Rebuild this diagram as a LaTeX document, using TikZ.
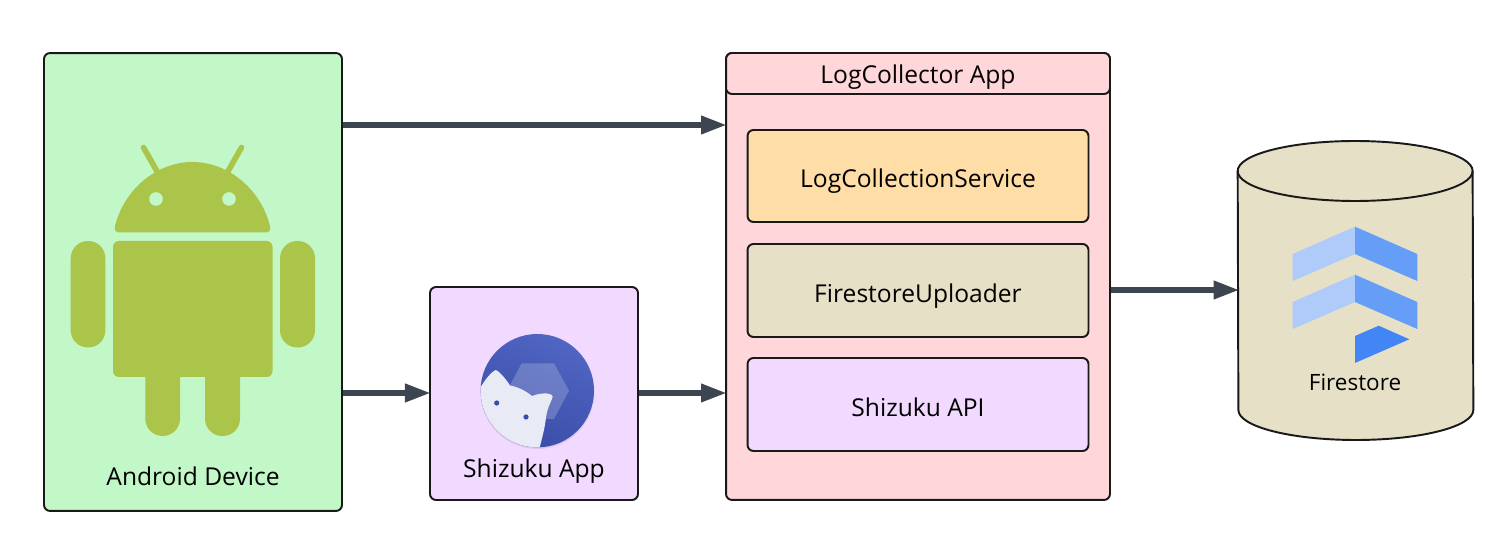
\documentclass[tikz,border=0pt]{standalone}
\usepackage{fontspec}
\setmainfont{Open Sans}
\usetikzlibrary{arrows.meta}
\definecolor{darrow}{HTML}{3D4551}
\definecolor{cgreen}{HTML}{C2F8C8}
\definecolor{cpurple}{HTML}{F2D9FF}
\definecolor{cpink}{HTML}{FFD6D9}
\definecolor{corange}{HTML}{FFDDA6}
\definecolor{ctan}{HTML}{E6E0C7}
\definecolor{droid}{HTML}{ABC44A}
\definecolor{shzlight}{HTML}{5066C2}
\definecolor{shzdark}{HTML}{394CA8}
\definecolor{shzcat}{HTML}{E8EBF6}
\definecolor{fslight}{HTML}{AECBFA}
\definecolor{fsmid}{HTML}{669DF6}
\definecolor{fsdark}{HTML}{4285F4}
\tikzset{box/.style = {shape=rectangle,draw=black!90,line width=1.1pt,rounded corners=3.4pt,inner sep=0pt,text height=13.5pt,text depth=0pt,font=\fontsize{14}{16}\selectfont}}
\tikzset{txt/.style = {inner sep=0pt,font=\fontsize{14}{16}\selectfont}}
\tikzset{edge/.style = {-{Triangle[length=14.5pt,width=10pt]},draw=darrow,line width=3pt,shorten >=-0.8pt}}
\begin{document}
\begin{tikzpicture}[x=0.02cm,y=-0.02cm]
		\useasboundingbox (0,0) rectangle (1500,543);
		
		% boxes
		\node[box,fill=cgreen,minimum width=5.96cm,minimum height=9.16cm] (android) at (193,282) {};
		\node[box,fill=cpurple,minimum width=4.16cm,minimum height=4.26cm] (shizuku) at (534,393.5) {};
		\node[box,fill=cpink,minimum width=7.68cm,minimum height=8.94cm] (logapp) at (918,276.5) {};
		\node[box,fill=cpink,minimum width=7.68cm,minimum height=0.82cm,text height=11.5pt] (header) at (918,73.5) {LogCollector App};
		\node[box,fill=corange,minimum width=6.82cm,minimum height=1.84cm] (service) at (918,176) {LogCollectionService};
		\node[box,fill=ctan,minimum width=6.82cm,minimum height=1.86cm] (uploader) at (918,290.5) {FirestoreUploader};
		\node[box,fill=cpurple,minimum width=6.82cm,minimum height=1.86cm] (api) at (918,404.5) {Shizuku API};
		
		% cylinder
		\node[minimum width=4.7cm,minimum height=5.98cm,inner sep=0pt] (store) at (1355.5,290.5) {};
		\draw[draw=black!90,line width=1.1pt,fill=ctan] (store.west |- 0,171) arc[start angle=180,end angle=0,x radius=2.35cm,y radius=0.6cm] -- (store.east |- 0,410) arc[start angle=0,end angle=-180,x radius=2.35cm,y radius=0.6cm] -- cycle;
		\draw[draw=black!90,line width=1.1pt] (store.west |- 0,171) arc[start angle=180,end angle=360,x radius=2.35cm,y radius=0.6cm];
		
		% android robot
		\fill[droid] (115,226) .. controls (124,190) and (156,162) .. (192.5,162) .. controls (229,162) and (261,190) .. (270,226) .. controls (271,230) and (269,232.5) .. (266,232.5) -- (119,232.5) .. controls (116,232.5) and (114,230) .. (115,226) -- cycle;
		\draw[droid,line width=3.2pt,line cap=round] (143.5,147.5) -- (158,173);
		\draw[droid,line width=3.2pt,line cap=round] (241.5,147.5) -- (227,173);
		\fill[cgreen] (156,199) circle (6.8);
		\fill[cgreen] (229,199) circle (6.8);
		\fill[droid,rounded corners=3.4pt] (113,241) rectangle (272.5,377);
		\fill[droid,rounded corners=9.8pt] (70.7,241) rectangle (105.4,347.5);
		\fill[droid,rounded corners=9.8pt] (280,241) rectangle (315,347.5);
		\fill[droid,rounded corners=9.8pt] (145.3,360) rectangle (180,436);
		\fill[droid,rounded corners=9.8pt] (205,360) rectangle (240,436);
		\node[txt] (androidlabel) at (193,476) {Android Device};
		
		% shizuku icon
		\fill[black,opacity=0.08] (537.5,392) circle (57);
		\shade[left color=shzlight,right color=shzdark,shading angle=-25] (537.3,390.7) circle (56.7);
		\fill[white,opacity=0.2] (521.7,363.3) -- (554,363.3) -- (569,390.7) -- (554,419) -- (521.7,419) -- (507,390.7) -- cycle;
		\begin{scope}
			\clip (537.3,390.7) circle (56.7);
			\fill[shzcat] (478,387.5) -- (480.7,387.3) .. controls (484,381) and (491,372) .. (495.7,370) .. controls (499,371) and (506,379) .. (510,385.5) .. controls (518,387) and (526,391) .. (532,396) .. controls (537,394) and (546,392) .. (551,394.5) .. controls (553,395.5) and (553,397) .. (552,399) .. controls (549,405) and (547,411) .. (546,417) .. controls (545,428) and (542,438) .. (539.3,449) -- (478,449) -- cycle;
		\end{scope}
		\fill[shzdark] (496.7,403) circle (2.6);
		\fill[shzdark] (526,417) circle (2.6);
		\node[txt] (shizukulabel) at (534,471) {Shizuku App};
		
		% firestore icon
		\fill[fslight] (1292.7,254) -- (1355,226.7) -- (1355,254) -- (1292.7,281) -- cycle;
		\fill[fsmid] (1355,226.7) -- (1417.3,254) -- (1417.3,281) -- (1355,254) -- cycle;
		\fill[fslight] (1292.7,302) -- (1355,274.7) -- (1355,302) -- (1292.7,329) -- cycle;
		\fill[fsmid] (1355,274.7) -- (1417.3,302) -- (1417.3,329) -- (1355,302) -- cycle;
		\fill[fsdark] (1355,336) -- (1378.7,325.7) -- (1409.3,339.3) -- (1355,363) -- cycle;
		\node[txt,font=\fontsize{12.8}{15}\selectfont] (storelabel) at (1355,382) {Firestore};
		
		% edges
		\draw[edge] (android.east |- 0,125) to (logapp.west |- 0,125);
		\draw[edge] (android.east |- 0,393) to (shizuku.west |- 0,393);
		\draw[edge] (shizuku.east |- 0,393) to (logapp.west |- 0,393);
		\draw[edge] (logapp.east |- 0,290) to (store.west |- 0,290);
	\end{tikzpicture}
\end{document}
